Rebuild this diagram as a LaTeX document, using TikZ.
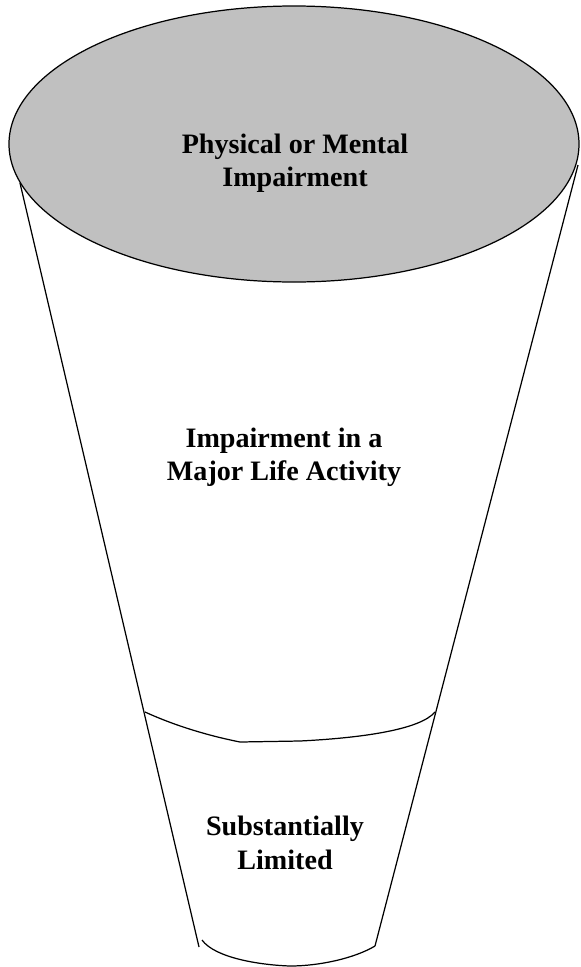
\documentclass[tikz,border=0pt]{standalone}
\usepackage{fontspec}
\setmainfont{Liberation Serif}
\usepackage{xcolor}
\usetikzlibrary{positioning}
\definecolor{capgray}{RGB}{192,192,192}
\tikzset{
  funnelline/.style={draw=black, line width=0.7pt, line join=round},
  funneltext/.style={align=center, font=\fontsize{16}{19}\selectfont\bfseries, inner sep=1pt}
}
\begin{document}
\begin{tikzpicture}[x=0.02cm, y=-0.02cm]
  \useasboundingbox (0,0) rectangle (581,967);
  % funnel body
  \coordinate (ltop) at (20,183);
  \coordinate (rtop) at (578,165);
  \coordinate (lbot) at (199,947);
  \coordinate (rbot) at (375,946);
  \draw[funnelline] (ltop) -- (lbot);
  \draw[funnelline] (rtop) -- (rbot);
  % band between middle and bottom
  \draw[funnelline] (145,712) .. controls (180,728) and (215,737) .. (240,742)
    -- (300,741) .. controls (360,738) and (420,730) .. (435,712);
  \draw[funnelline] (202,940) .. controls (215,958) and (260,965) .. (290,966)
    .. controls (320,966) and (355,958) .. (rbot);
  % top cap
  \draw[funnelline, fill=capgray] (294,144) ellipse [x radius=285, y radius=138];
  \node[funneltext] (captext) at (295,163) {Physical or Mental\\Impairment};
  \node[funneltext] (midtext) at (284,457) {Impairment in a\\Major Life Activity};
  \node[funneltext] (lowtext) at (285,843) {Substantially\\Limited};
\end{tikzpicture}
\end{document}
